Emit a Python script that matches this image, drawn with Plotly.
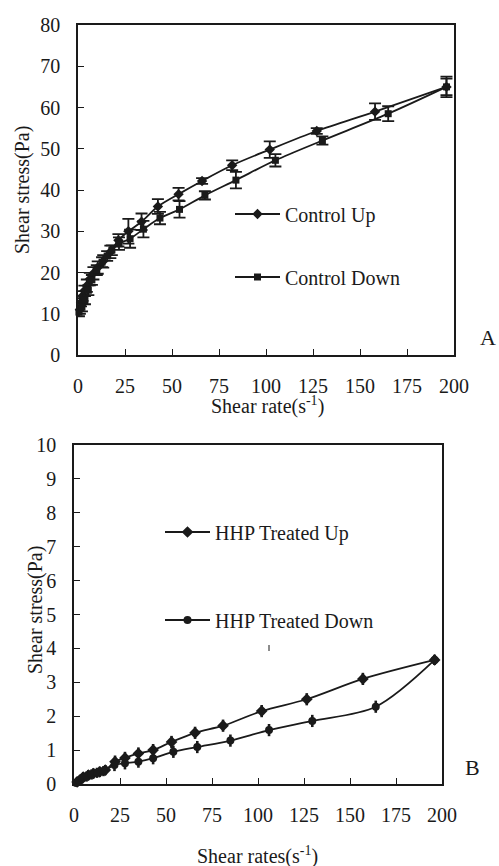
import plotly.graph_objects as go

OFF = 0
W, H = 499, 866

# ---------------- Panel A data (Control) ----------------
ctrl_up_x = [1.0, 1.6, 2.4, 3.4, 4.7, 6.3, 8.2, 10.5, 13.4, 17.2, 21.5, 26.8, 33.8, 42.5, 53.5, 66, 82, 102, 127, 158, 196]
ctrl_up_y = [11.0, 12.8, 14.3, 15.6, 16.8, 18.4, 19.8, 21.2, 22.7, 25.0, 27.8, 30.0, 32.3, 36.0, 39.0, 42.2, 46.0, 49.8, 54.3, 59.0, 65.0]
ctrl_up_e = [1.0, 1.0, 1.2, 1.2, 1.5, 1.5, 1.5, 1.5, 1.5, 1.5, 1.5, 3.0, 2.0, 1.8, 1.5, 0.7, 1.2, 2.0, 0.7, 2.0, 2.5]

ctrl_dn_x = [0.5, 2.1, 3.7, 5.5, 7.4, 10.0, 12.8, 15.5, 18.0, 21.8, 27.7, 34.8, 43.6, 54.0, 67.5, 84, 105, 130, 165, 196]
ctrl_dn_y = [10.4, 11.6, 13.3, 15.7, 18.2, 20.6, 22.5, 24.0, 25.4, 27.0, 28.2, 30.5, 33.2, 35.3, 38.7, 42.4, 47.2, 52.0, 58.5, 65.0]
ctrl_dn_e = [1.0, 1.0, 1.0, 1.2, 1.2, 1.2, 1.2, 1.2, 1.2, 1.5, 2.2, 2.0, 1.5, 2.0, 1.0, 2.0, 1.5, 1.0, 1.8, 2.0]

# ---------------- Panel B data (HHP treated) ----------------
hhp_up_x = [1.7, 3.3, 5.0, 7.8, 10.5, 14.0, 17.0, 22.3, 27.7, 35, 43, 53, 65.8, 81, 102, 126.5, 157, 196]
hhp_up_y = [0.06, 0.12, 0.20, 0.26, 0.31, 0.36, 0.41, 0.66, 0.77, 0.90, 1.00, 1.24, 1.51, 1.72, 2.15, 2.50, 3.10, 3.66]
hhp_up_e = [0.15, 0.15, 0.15, 0.15, 0.15, 0.15, 0.15, 0.18, 0.18, 0.18, 0.18, 0.18, 0.18, 0.18, 0.18, 0.18, 0.18, 0.15]

hhp_dn_x = [1.2, 2.8, 4.4, 6.8, 9.5, 12.5, 16.0, 22.0, 27.7, 35, 43, 54, 67, 85, 106, 129.5, 164, 196]
hhp_dn_y = [0.03, 0.09, 0.16, 0.22, 0.28, 0.33, 0.38, 0.56, 0.61, 0.66, 0.76, 0.95, 1.09, 1.28, 1.59, 1.86, 2.28, 3.66]
hhp_dn_e = [0.15, 0.15, 0.15, 0.15, 0.15, 0.15, 0.15, 0.18, 0.18, 0.18, 0.18, 0.18, 0.18, 0.18, 0.18, 0.18, 0.18, 0.15]

x_ticks = [0, 25, 50, 75, 100, 125, 150, 175, 200]
yA_ticks = [0, 10, 20, 30, 40, 50, 60, 70, 80]
yB_ticks = list(range(0, 11))

FONT = "Liberation Serif, Times New Roman, DejaVu Serif, serif"
INK = "#1a1a1a"


def px(x):
    return (x - OFF) / W


def py(y):
    return 1 - (y - OFF) / H


fig = go.Figure()


def add_series(x, y, e, symbol, name, xa, ya, legend, cap, msize, ethick):
    # error bars (no legend)
    fig.add_trace(go.Scatter(
        x=x, y=y, mode="markers", xaxis=xa, yaxis=ya, showlegend=False,
        marker=dict(size=2, color=INK, opacity=0),
        error_y=dict(type="data", array=e, visible=True, color=INK,
                     thickness=ethick, width=cap),
        hoverinfo="skip", cliponaxis=False))
    fig.add_trace(go.Scatter(
        x=x, y=y, mode="lines+markers", name=name, xaxis=xa, yaxis=ya,
        legend=legend,
        line=dict(color=INK, width=1.8, shape="spline", smoothing=0.9),
        marker=dict(symbol=symbol, size=msize, color=INK),
        cliponaxis=False))


add_series(ctrl_up_x, ctrl_up_y, ctrl_up_e, "diamond", "Control Up", "x", "y", "legend", 6, 8, 1.8)
add_series(ctrl_dn_x, ctrl_dn_y, ctrl_dn_e, "square", "Control Down", "x", "y", "legend2", 6, 7, 1.8)
add_series(hhp_up_x, hhp_up_y, hhp_up_e, "diamond", "HHP Treated Up", "x2", "y2", "legend3", 0, 9, 2.6)
add_series(hhp_dn_x, hhp_dn_y, hhp_dn_e, "circle", "HHP Treated Down", "x2", "y2", "legend4", 0, 8, 2.6)

axis_common = dict(
    showgrid=False, zeroline=False, showline=True, linecolor=INK, linewidth=1.5,
    mirror=True, ticks="inside", ticklen=6, tickcolor=INK, tickwidth=1.2,
    automargin=False,
    tickfont=dict(family=FONT, size=20, color=INK),
)

fig.update_layout(
    width=W, height=H, margin=dict(l=0, r=0, t=0, b=0, autoexpand=False),
    paper_bgcolor="white", plot_bgcolor="white",
    font=dict(family=FONT, size=20, color=INK),
    xaxis=dict(domain=[px(78), px(454)], range=[0, 200], tickvals=x_ticks,
               anchor="y", ticklabelstandoff=12, **axis_common),
    yaxis=dict(domain=[py(355), py(25)], range=[0, 80], tickvals=yA_ticks,
               anchor="x", ticklabelstandoff=12, **axis_common),
    xaxis2=dict(domain=[px(74), px(442)], range=[0, 200], tickvals=x_ticks,
                anchor="y2", ticklabelstandoff=12, **axis_common),
    yaxis2=dict(domain=[py(784), py(445)], range=[0, 10], tickvals=yB_ticks,
                anchor="x2", ticklabelstandoff=12, **axis_common),
)

leg_common = dict(bgcolor="rgba(0,0,0,0)", borderwidth=0, itemwidth=45,
                  font=dict(family=FONT, size=20, color=INK),
                  xanchor="left", yanchor="middle")
fig.update_layout(
    legend=dict(x=px(230), y=py(214), **leg_common),
    legend2=dict(x=px(230), y=py(277), **leg_common),
    legend3=dict(x=px(160), y=py(532), **leg_common),
    legend4=dict(x=px(160), y=py(620), **leg_common),
)

ann_font = dict(family=FONT, size=20, color=INK)
ann = []
ann.append(dict(text="Shear stress(Pa)", x=px(22), y=py(190), textangle=-90, font=ann_font))
ann.append(dict(text="Shear rate(s<sup>-1</sup>)", x=px(267), y=py(406), font=ann_font))
ann.append(dict(text="A", x=px(488), y=py(337), font=dict(family=FONT, size=22, color=INK)))
ann.append(dict(text="Shear stress(Pa)", x=px(35), y=py(610), textangle=-90, font=ann_font))
ann.append(dict(text="Shear rates(s<sup>-1</sup>)", x=px(257), y=py(855), font=ann_font))
ann.append(dict(text="B", x=px(472), y=py(767), font=dict(family=FONT, size=22, color=INK)))
for a in ann:
    a.update(xref="paper", yref="paper", showarrow=False, xanchor="center", yanchor="middle")
fig.update_layout(annotations=ann)

fig.add_shape(type="line", xref="paper", yref="paper", x0=px(269), x1=px(269),
              y0=py(645), y1=py(651), line=dict(color=INK, width=1))

fig.write_html("out.html", config={"displayModeBar": False},
               post_script="document.body.style.margin='0';document.body.style.overflow='hidden';")
